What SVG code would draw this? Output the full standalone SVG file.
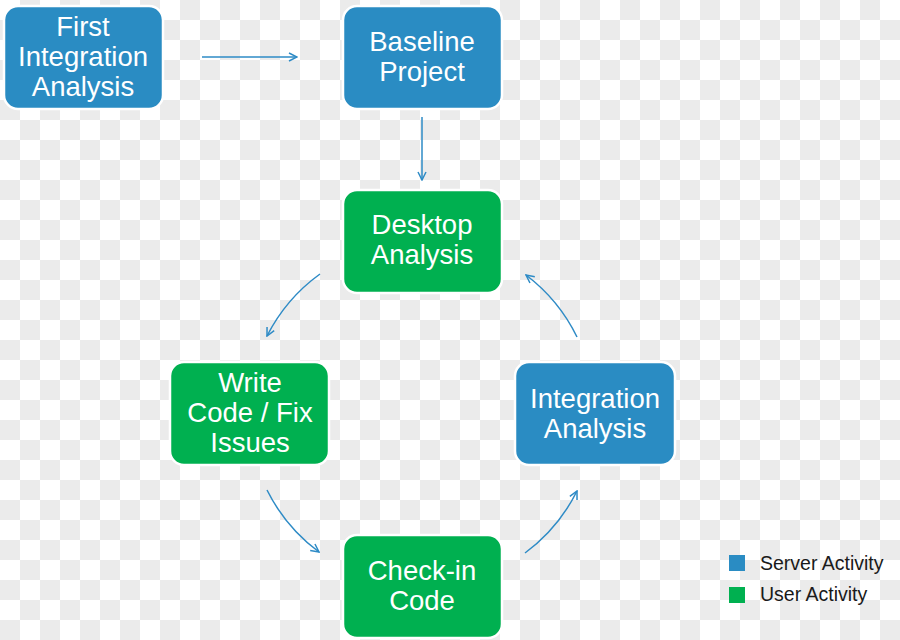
<svg xmlns="http://www.w3.org/2000/svg" width="900" height="640" viewBox="0 0 900 640">
<defs>
<pattern id="checker" x="0" y="0" width="40" height="40" patternUnits="userSpaceOnUse">
<rect width="40" height="40" fill="#ffffff"/>
<rect x="20" y="0" width="20" height="20" fill="#ebebeb"/>
<rect x="0" y="20" width="20" height="20" fill="#ebebeb"/>
</pattern>
<marker id="arr" viewBox="0 0 10 10" refX="9" refY="5" markerWidth="10" markerHeight="10" markerUnits="userSpaceOnUse" orient="auto">
<path d="M1,1 L9,5 L1,9" fill="none" stroke="#2e8bc6" stroke-width="1.5"/>
</marker>
<style>
.box{stroke:#ffffff;stroke-width:2.5}
.blue{fill:#2a8cc3}
.green{fill:#00b050}
.lbl{font-family:"Liberation Sans",Arial,sans-serif;font-size:27.5px;fill:#ffffff;text-anchor:middle}
.con{fill:none;stroke:#2e8bc6;stroke-width:1.5;marker-end:url(#arr)}
.leg{font-family:"Liberation Sans",Arial,sans-serif;font-size:19.5px;fill:#1a1a1a}
</style>
</defs>
<rect width="900" height="640" fill="url(#checker)"/>
<g id="connectors">
<path class="con" d="M202,57 L297,57"/>
<path class="con" d="M422,117 L422,180"/>
<path class="con" d="M320,274 A173,173 0 0 0 267,336"/>
<path class="con" d="M267,490 A173,173 0 0 0 319,552"/>
<path class="con" d="M525,553 A173,173 0 0 0 577,491"/>
<path class="con" d="M577,337 A173,173 0 0 0 526,275"/>
</g>
<g id="first-integration-analysis">
<rect class="box blue" x="4" y="6" width="159" height="103" rx="14"/>
<text class="lbl" x="83" y="36">First</text>
<text class="lbl" x="83" y="66">Integration</text>
<text class="lbl" x="83" y="96">Analysis</text>
</g>
<g id="baseline-project">
<rect class="box blue" x="343" y="6" width="159" height="103" rx="14"/>
<text class="lbl" x="422" y="51">Baseline</text>
<text class="lbl" x="422" y="81">Project</text>
</g>
<g id="desktop-analysis">
<rect class="box green" x="343" y="190" width="159" height="103" rx="14"/>
<text class="lbl" x="422" y="234">Desktop</text>
<text class="lbl" x="422" y="264">Analysis</text>
</g>
<g id="write-code">
<rect class="box green" x="170" y="362" width="159" height="103" rx="14"/>
<text class="lbl" x="250" y="392">Write</text>
<text class="lbl" x="250" y="422">Code / Fix</text>
<text class="lbl" x="250" y="452">Issues</text>
</g>
<g id="integration-analysis">
<rect class="box blue" x="515" y="362" width="160" height="103" rx="14"/>
<text class="lbl" x="595" y="408">Integration</text>
<text class="lbl" x="595" y="438">Analysis</text>
</g>
<g id="check-in-code">
<rect class="box green" x="343" y="535" width="159" height="103" rx="14"/>
<text class="lbl" x="422" y="580">Check-in</text>
<text class="lbl" x="422" y="610">Code</text>
</g>
<g id="legend">
<rect x="729" y="555" width="16" height="16" fill="#2a8cc3"/>
<rect x="729" y="587" width="16" height="16" fill="#00b050"/>
<text class="leg" x="760" y="570">Server Activity</text>
<text class="leg" x="760" y="601">User Activity</text>
</g>
</svg>
